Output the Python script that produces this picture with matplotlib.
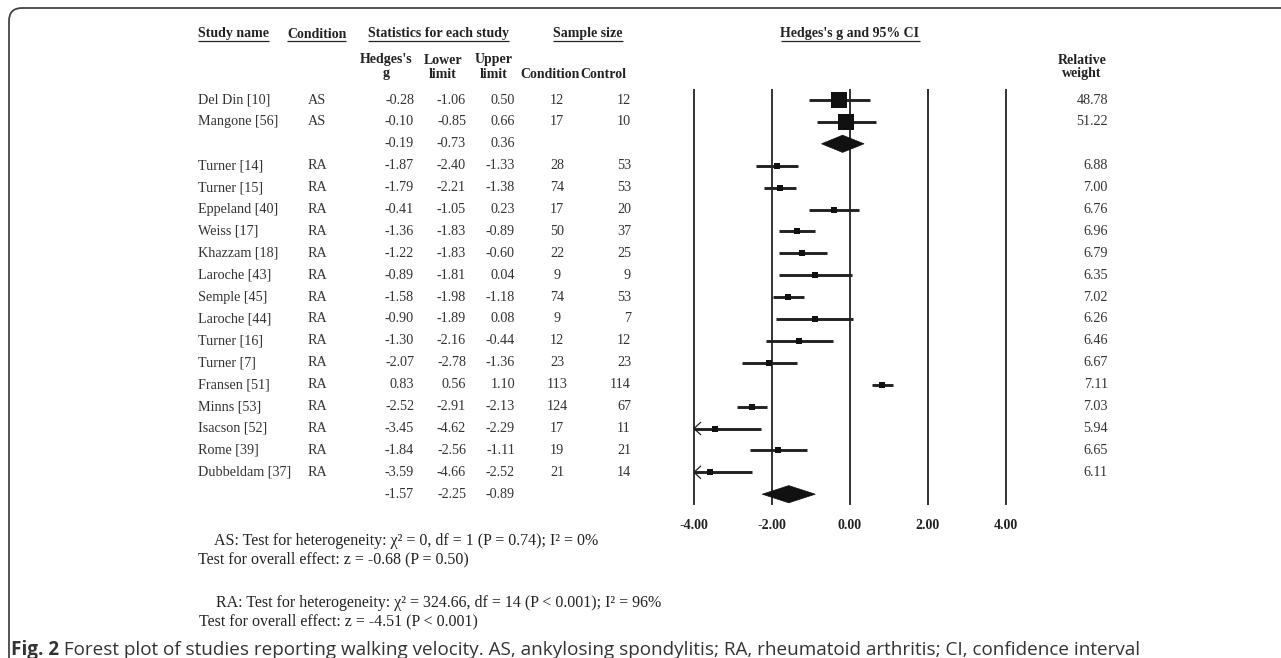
import matplotlib
matplotlib.use("Agg")
import matplotlib.pyplot as plt
from matplotlib.patches import Polygon
from matplotlib.path import Path
from matplotlib.patches import PathPatch
import numpy as np

# ---------------- data ----------------
as_names = ["Del Din [10]", "Mangone [56]"]
as_cond = ["AS", "AS"]
as_g = [-0.28, -0.10]
as_lo = [-1.06, -0.85]
as_hi = [0.50, 0.66]
as_nc = [12, 17]
as_nk = [12, 10]
as_w = [48.78, 51.22]
as_sum = [-0.19, -0.73, 0.36]

ra_names = ["Turner [14]", "Turner [15]", "Eppeland [40]", "Weiss [17]", "Khazzam [18]",
            "Laroche [43]", "Semple [45]", "Laroche [44]", "Turner [16]", "Turner [7]",
            "Fransen [51]", "Minns [53]", "Isacson [52]", "Rome [39]", "Dubbeldam [37]"]
ra_cond = ["RA"] * 15
ra_g = [-1.87, -1.79, -0.41, -1.36, -1.22, -0.89, -1.58, -0.90, -1.30, -2.07, 0.83, -2.52, -3.45, -1.84, -3.59]
ra_lo = [-2.40, -2.21, -1.05, -1.83, -1.83, -1.81, -1.98, -1.89, -2.16, -2.78, 0.56, -2.91, -4.62, -2.56, -4.66]
ra_hi = [-1.33, -1.38, 0.23, -0.89, -0.60, 0.04, -1.18, 0.08, -0.44, -1.36, 1.10, -2.13, -2.29, -1.11, -2.52]
ra_nc = [28, 74, 17, 50, 22, 9, 74, 9, 12, 23, 113, 124, 17, 19, 21]
ra_nk = [53, 53, 20, 37, 25, 9, 53, 7, 12, 23, 114, 67, 11, 21, 14]
ra_w = [6.88, 7.00, 6.76, 6.96, 6.79, 6.35, 7.02, 6.26, 6.46, 6.67, 7.11, 7.03, 5.94, 6.65, 6.11]
ra_sum = [-1.57, -2.25, -0.89]

ticks = [-4, -2, 0, 2, 4]
tick_labels = ["-4.00", "-2.00", "0.00", "2.00", "4.00"]

as_test = ["AS: Test for heterogeneity: \u03c7\u00b2 = 0, df = 1 (P = 0.74); I\u00b2 = 0%",
           "Test for overall effect: z = -0.68 (P = 0.50)"]
ra_test = ["RA: Test for heterogeneity: \u03c7\u00b2 = 324.66, df = 14 (P < 0.001); I\u00b2 = 96%",
           "Test for overall effect: z = -4.51 (P < 0.001)"]
caption_bold = "Fig. 2"
caption_rest = ("Forest plot of studies reporting walking velocity. AS, ankylosing spondylitis; "
                "RA, rheumatoid arthritis; CI, confidence interval")

# ---------------- layout ----------------
W, H = 1281, 658
fig = plt.figure(figsize=(W / 100, H / 100), dpi=100)
fig.patch.set_facecolor("white")

ROW0 = 100.0      # pixel y of first row
ROWH = 21.9       # row height px
NROWS = 19
UNIT = 39.0       # px per unit of g
ZERO = 850.0      # px of g=0

def ax_px(left, top, width, height, **kw):
    return fig.add_axes([left / W, 1 - (top + height) / H, width / W, height / H], **kw)

bg = ax_px(0, 0, W, H)
bg.set_xlim(0, W)
bg.set_ylim(H, 0)
bg.axis("off")

top_px = ROW0 - 0.5 * ROWH
tab = ax_px(0, top_px, W, NROWS * ROWH)
tab.set_xlim(0, W)
tab.set_ylim(NROWS - 0.5, -0.5)
tab.axis("off")

fx0, fx1 = -5, 5
fst = ax_px(ZERO + fx0 * UNIT, top_px, (fx1 - fx0) * UNIT, NROWS * ROWH)
fst.set_xlim(fx0, fx1)
fst.set_ylim(NROWS - 0.5, -0.5)
fst.patch.set_alpha(0)
for s in fst.spines.values():
    s.set_visible(False)
fst.set_yticks([])
fst.set_xticks(ticks)
fst.set_xticklabels(tick_labels, fontfamily="Liberation Serif", fontweight="bold",
                    fontsize=10, color="#222222")
fst.tick_params(axis="x", length=0, pad=10)

INK = "#222222"
TXT = "#333333"
SERIF = "Liberation Serif"

# border (left and top with rounded corner)
r = 13
bx, by = 9, 8
verts = [(bx, H + 5), (bx, by + r), (bx, by), (bx + r, by), (W + 5, by)]
codes = [Path.MOVETO, Path.LINETO, Path.CURVE3, Path.CURVE3, Path.LINETO]
bg.add_patch(PathPatch(Path(verts, codes), fill=False, lw=1.3, edgecolor="#444444"))

renderer = fig.canvas.get_renderer()

def underline(t, y):
    bb = t.get_window_extent(renderer)
    bg.plot([bb.x0, bb.x1], [y, y], color=INK, lw=0.9, solid_capstyle="butt")

# headers
hdr_kw = dict(fontfamily=SERIF, fontweight="bold", fontsize=10, color=INK, va="center")
HY = 34
ULY = 41
t = bg.text(198, HY, "Study name", ha="left", **hdr_kw); underline(t, ULY)
t = bg.text(287, HY, "Condition", ha="left", **hdr_kw); underline(t, ULY)
t = bg.text(438, HY, "Statistics for each study", ha="center", **hdr_kw); underline(t, ULY)
t = bg.text(588, HY, "Sample size", ha="center", **hdr_kw); underline(t, ULY)
t = bg.text(ZERO, HY, "Hedges's g and 95% CI", ha="center", **hdr_kw); underline(t, ULY)

Y1, Y2 = 60, 74
bg.text(386, Y1, "Hedges's", ha="center", **hdr_kw)
bg.text(386, Y2, "g", ha="center", **hdr_kw)
bg.text(443, Y1, "Lower", ha="center", **hdr_kw)
bg.text(443, Y2, "limit", ha="center", **hdr_kw)
bg.text(494, Y1, "Upper", ha="center", **hdr_kw)
bg.text(494, Y2, "limit", ha="center", **hdr_kw)
bg.text(550, Y2, "Condition", ha="center", **hdr_kw)
bg.text(603, Y2, "Control", ha="center", **hdr_kw)
bg.text(1082, Y1, "Relative", ha="center", **hdr_kw)
bg.text(1082, Y2, "weight", ha="center", **hdr_kw)

# rows
names = as_names + [""] + ra_names + [""]
conds = as_cond + [""] + ra_cond + [""]
gs = as_g + [as_sum[0]] + ra_g + [ra_sum[0]]
los = as_lo + [as_sum[1]] + ra_lo + [ra_sum[1]]
his = as_hi + [as_sum[2]] + ra_hi + [ra_sum[2]]
ncs = as_nc + [None] + ra_nc + [None]
nks = as_nk + [None] + ra_nk + [None]
ws = as_w + [None] + ra_w + [None]

cell_kw = dict(fontfamily=SERIF, fontsize=10.2, color=TXT, va="center")
for i in range(len(names)):
    if names[i]:
        tab.text(198, i, names[i], ha="left", **cell_kw)
        tab.text(308, i, conds[i], ha="left", **cell_kw)
    tab.text(414, i, f"{gs[i]:.2f}", ha="right", **cell_kw)
    tab.text(466, i, f"{los[i]:.2f}", ha="right", **cell_kw)
    tab.text(515, i, f"{his[i]:.2f}", ha="right", **cell_kw)
    if ncs[i] is not None:
        tab.text(557, i, str(ncs[i]), ha="center", **cell_kw)
        tab.text(631, i, str(nks[i]), ha="right", **cell_kw)
        tab.text(1108, i, f"{ws[i]:.2f}", ha="right", **cell_kw)

# forest: reference lines
for x in ticks:
    fst.plot([x, x], [-0.5, NROWS - 0.5], color=INK, lw=1.3, solid_capstyle="butt", zorder=1)

px_x = 1.0 / UNIT
px_y = 1.0 / ROWH
for i in range(len(names)):
    if ws[i] is None:
        # summary diamond
        h = 8.6 * px_y
        fst.add_patch(Polygon([(los[i], i), (gs[i], i - h), (his[i], i), (gs[i], i + h)],
                              closed=True, facecolor="#111111", edgecolor="#111111", lw=0.5, zorder=3))
        continue
    lo = los[i]
    arrow = lo < ticks[0]
    lo_c = max(lo, ticks[0])
    fst.plot([lo_c, his[i]], [i, i], color=INK, lw=2.1, solid_capstyle="butt", zorder=2)
    if arrow:
        fst.plot([ticks[0] + 6.5 * px_x, ticks[0], ticks[0] + 6.5 * px_x],
                 [i - 6 * px_y, i, i + 6 * px_y], color=INK, lw=0.9, zorder=2)
    side_pt = 2.15 * np.sqrt(ws[i]) * 0.72
    fst.scatter([gs[i]], [i], marker="s", s=side_pt ** 2, color="#111111", linewidths=0, zorder=4)

# tests text
test_kw = dict(fontfamily=SERIF, fontsize=11.5, color=INK, va="center", ha="left")
bg.text(214, 541, as_test[0], **test_kw)
bg.text(198, 559, as_test[1], **test_kw)
bg.text(216, 603, ra_test[0], **test_kw)
bg.text(199, 621, ra_test[1], **test_kw)

# caption
cap_kw = dict(fontfamily="Open Sans", color="#333333", va="baseline", ha="left")
CAP_X, CAP_Y, CAP_END = 11, 655, 1133
size0 = 12.0
t1 = bg.text(CAP_X, CAP_Y, caption_bold, fontweight="bold", fontsize=size0, **cap_kw)
t2 = bg.text(0, CAP_Y, " " + caption_rest, fontsize=size0, **cap_kw)
b1 = t1.get_window_extent(renderer)
t2.set_x(b1.x1)
b2 = t2.get_window_extent(renderer)
scale = (CAP_END - CAP_X) / (b2.x1 - b1.x0)
t1.set_fontsize(size0 * scale)
t2.set_fontsize(size0 * scale)
b1 = t1.get_window_extent(renderer)
t2.set_x(b1.x1)

fig.savefig("out.png", dpi=100, facecolor="white")
